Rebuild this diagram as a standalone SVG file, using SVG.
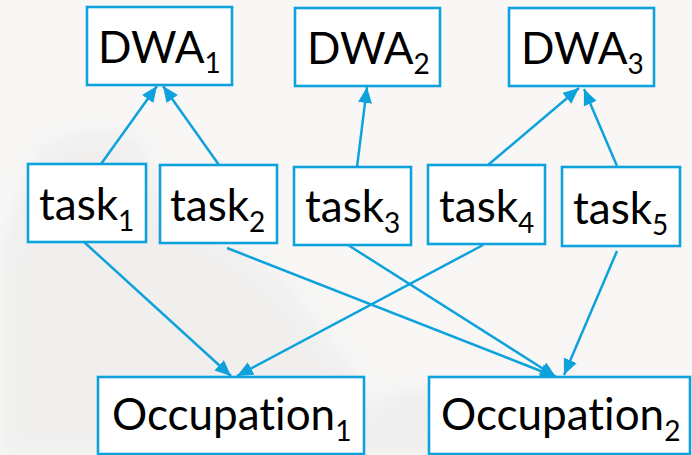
<svg xmlns="http://www.w3.org/2000/svg" width="692" height="455" viewBox="0 0 692 455">
  <defs>
    <style>
      .box { fill: #ffffff; stroke: #0ea2dd; stroke-width: 2.6; }
      .lbl { font-family: Lato, "Open Sans", "Liberation Sans", sans-serif; font-size: 44px; fill: #000000; font-variant-ligatures: none; }
      .sub { font-size: 28px; }
      .edge { stroke: #0ea2dd; stroke-width: 2.5; fill: none; marker-end: url(#head); }
    </style>
    <marker id="head" markerUnits="userSpaceOnUse" markerWidth="18" markerHeight="16" refX="16" refY="7" orient="auto">
      <path d="M0,0 L16,7 L0,14 Z" fill="#0ea2dd"/>
    </marker>
    <filter id="soft" x="-20%" y="-20%" width="140%" height="140%">
      <feGaussianBlur stdDeviation="8"/>
    </filter>
  </defs>

  <!-- backdrop -->
  <rect x="0" y="0" width="692" height="455" fill="#f8f7f6"/>
  <g filter="url(#soft)" opacity="0.35">
    <path d="M40,150 C80,120 140,125 150,160 L160,200 C200,230 260,250 300,300 L360,380 L390,455 L0,455 L0,260 C10,220 20,180 40,150 Z" fill="#e2e2e2"/>
    <path d="M380,400 C420,380 470,390 500,420 L520,455 L360,455 Z" fill="#e0e0e0"/>
  </g>

  <!-- connectors -->
  <g id="connectors">
    <line class="edge" x1="101" y1="164" x2="157" y2="86"/>
    <line class="edge" x1="219" y1="165" x2="163" y2="86"/>
    <line class="edge" x1="357" y1="167" x2="367" y2="87"/>
    <line class="edge" x1="488" y1="165" x2="579" y2="88"/>
    <line class="edge" x1="617" y1="166" x2="584" y2="89"/>
    <line class="edge" x1="84" y1="242" x2="231" y2="376"/>
    <line class="edge" x1="227" y1="248" x2="556" y2="377"/>
    <line class="edge" x1="348" y1="245" x2="556" y2="377"/>
    <line class="edge" x1="483" y1="245" x2="237" y2="376"/>
    <line class="edge" x1="617" y1="251" x2="564" y2="375"/>
  </g>

  <!-- DWA nodes -->
  <g id="dwa1">
    <rect class="box" x="87" y="7" width="145" height="78"/>
    <text class="lbl" x="98" y="63">DWA<tspan class="sub" dy="10">1</tspan></text>
  </g>
  <g id="dwa2">
    <rect class="box" x="295" y="8" width="145" height="78"/>
    <text class="lbl" x="307" y="64">DWA<tspan class="sub" dy="10">2</tspan></text>
  </g>
  <g id="dwa3">
    <rect class="box" x="509" y="8" width="145" height="78"/>
    <text class="lbl" x="521" y="64">DWA<tspan class="sub" dy="10">3</tspan></text>
  </g>

  <!-- task nodes -->
  <g id="task1">
    <rect class="box" x="28" y="164" width="118" height="78"/>
    <text class="lbl" x="39" y="220">task<tspan class="sub" dy="11">1</tspan></text>
  </g>
  <g id="task2">
    <rect class="box" x="160" y="165" width="117" height="78"/>
    <text class="lbl" x="170" y="221">task<tspan class="sub" dy="11">2</tspan></text>
  </g>
  <g id="task3">
    <rect class="box" x="294" y="167" width="117" height="78"/>
    <text class="lbl" x="305" y="222">task<tspan class="sub" dy="11">3</tspan></text>
  </g>
  <g id="task4">
    <rect class="box" x="428" y="165" width="117" height="79"/>
    <text class="lbl" x="439" y="222">task<tspan class="sub" dy="11">4</tspan></text>
  </g>
  <g id="task5">
    <rect class="box" x="562" y="167" width="118" height="79"/>
    <text class="lbl" x="573" y="224">task<tspan class="sub" dy="11">5</tspan></text>
  </g>

  <!-- occupation nodes -->
  <g id="occupation1">
    <rect class="box" x="98" y="377" width="266" height="77"/>
    <text class="lbl" x="112" y="430">Occupation<tspan class="sub" dy="11">1</tspan></text>
  </g>
  <g id="occupation2">
    <rect class="box" x="429" y="377" width="261" height="77"/>
    <text class="lbl" x="441" y="430">Occupation<tspan class="sub" dy="11">2</tspan></text>
  </g>
</svg>
